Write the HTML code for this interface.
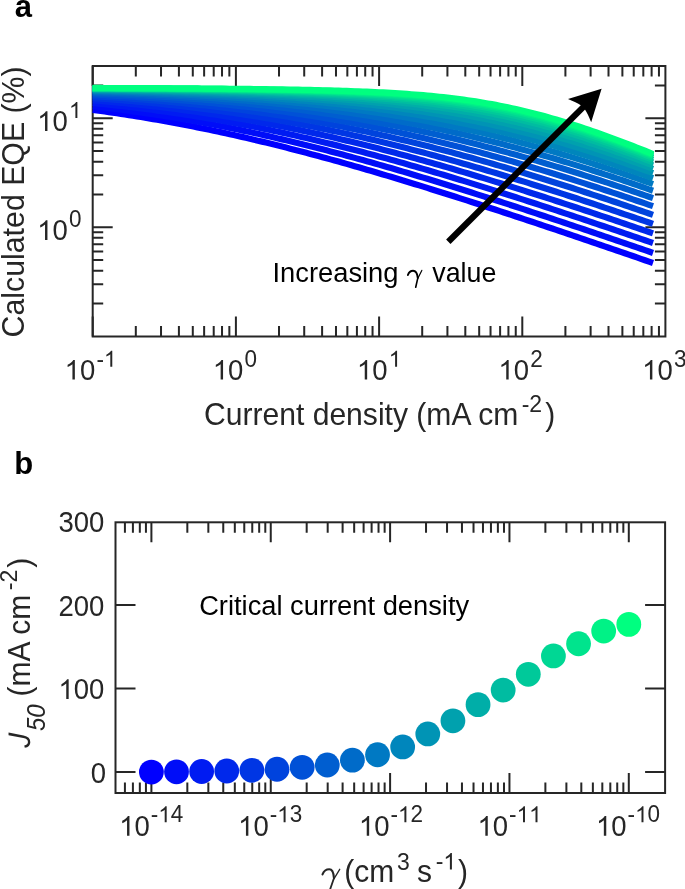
<!DOCTYPE html>
<html><head><meta charset="utf-8"><style>html,body{margin:0;padding:0;background:#fff;width:685px;height:889px;overflow:hidden}</style></head>
<body>
<svg width="685" height="889" viewBox="0 0 685 889" style="position:absolute;left:0;top:0;will-change:transform;font-family:'Liberation Sans',sans-serif">
<rect width="685" height="889" fill="#fff"/>
<path d="M92.7 336.5v-20M92.7 66.0v20M135.81 336.5v-10.5M135.81 66.0v10.5M161.02 336.5v-10.5M161.02 66.0v10.5M178.91 336.5v-10.5M178.91 66.0v10.5M192.79 336.5v-10.5M192.79 66.0v10.5M204.13 336.5v-10.5M204.13 66.0v10.5M213.72 336.5v-10.5M213.72 66.0v10.5M222.02 336.5v-10.5M222.02 66.0v10.5M229.35 336.5v-10.5M229.35 66.0v10.5M235.9 336.5v-20M235.9 66.0v20M279.01 336.5v-10.5M279.01 66.0v10.5M304.22 336.5v-10.5M304.22 66.0v10.5M322.11 336.5v-10.5M322.11 66.0v10.5M335.99 336.5v-10.5M335.99 66.0v10.5M347.33 336.5v-10.5M347.33 66.0v10.5M356.92 336.5v-10.5M356.92 66.0v10.5M365.22 336.5v-10.5M365.22 66.0v10.5M372.55 336.5v-10.5M372.55 66.0v10.5M379.1 336.5v-20M379.1 66.0v20M422.21 336.5v-10.5M422.21 66.0v10.5M447.42 336.5v-10.5M447.42 66.0v10.5M465.31 336.5v-10.5M465.31 66.0v10.5M479.19 336.5v-10.5M479.19 66.0v10.5M490.53 336.5v-10.5M490.53 66.0v10.5M500.12 336.5v-10.5M500.12 66.0v10.5M508.42 336.5v-10.5M508.42 66.0v10.5M515.75 336.5v-10.5M515.75 66.0v10.5M522.3 336.5v-20M522.3 66.0v20M565.41 336.5v-10.5M565.41 66.0v10.5M590.62 336.5v-10.5M590.62 66.0v10.5M608.51 336.5v-10.5M608.51 66.0v10.5M622.39 336.5v-10.5M622.39 66.0v10.5M633.73 336.5v-10.5M633.73 66.0v10.5M643.32 336.5v-10.5M643.32 66.0v10.5M651.62 336.5v-10.5M651.62 66.0v10.5M658.95 336.5v-10.5M658.95 66.0v10.5M92.7 303.49h10.5M665.4 303.49h-10.5M92.7 284.29h10.5M665.4 284.29h-10.5M92.7 270.68h10.5M665.4 270.68h-10.5M92.7 260.11h10.5M665.4 260.11h-10.5M92.7 251.48h10.5M665.4 251.48h-10.5M92.7 244.18h10.5M665.4 244.18h-10.5M92.7 237.86h10.5M665.4 237.86h-10.5M92.7 232.29h10.5M665.4 232.29h-10.5M92.7 227.3h20M665.4 227.3h-20M92.7 194.49h10.5M665.4 194.49h-10.5M92.7 175.29h10.5M665.4 175.29h-10.5M92.7 161.68h10.5M665.4 161.68h-10.5M92.7 151.11h10.5M665.4 151.11h-10.5M92.7 142.48h10.5M665.4 142.48h-10.5M92.7 135.18h10.5M665.4 135.18h-10.5M92.7 128.86h10.5M665.4 128.86h-10.5M92.7 123.29h10.5M665.4 123.29h-10.5M92.7 118.3h20M665.4 118.3h-20M92.7 85.49h10.5M665.4 85.49h-10.5" stroke="#262626" stroke-width="2" fill="none"/>
<rect x="92.7" y="66.0" width="572.7" height="270.5" fill="none" stroke="#262626" stroke-width="2"/>
<g fill="none" stroke-width="6.2" stroke-linejoin="round">
<path d="M92.7 109.88 96.73 110.42 100.76 110.97 104.79 111.53 108.82 112.1 112.85 112.68 116.89 113.28 120.92 113.88 124.95 114.49 128.98 115.12 133.01 115.75 137.04 116.4 141.07 117.05 145.1 117.72 149.13 118.39 153.16 119.08 157.2 119.78 161.23 120.49 165.26 121.21 169.29 121.94 173.32 122.68 177.35 123.43 181.38 124.2 185.41 124.97 189.44 125.75 193.47 126.55 197.51 127.35 201.54 128.17 205.57 128.99 209.6 129.83 213.63 130.68 217.66 131.53 221.69 132.4 225.72 133.28 229.75 134.17 233.78 135.06 237.82 135.97 241.85 136.89 245.88 137.81 249.91 138.75 253.94 139.7 257.97 140.65 262 141.62 266.03 142.59 270.06 143.58 274.09 144.57 278.13 145.57 282.16 146.59 286.19 147.6 290.22 148.63 294.25 149.67 298.28 150.72 302.31 151.77 306.34 152.83 310.37 153.9 314.4 154.98 318.43 156.07 322.47 157.16 326.5 158.26 330.53 159.37 334.56 160.49 338.59 161.61 342.62 162.74 346.65 163.88 350.68 165.02 354.71 166.17 358.74 167.33 362.78 168.49 366.81 169.67 370.84 170.84 374.87 172.03 378.9 173.21 382.93 174.41 386.96 175.61 390.99 176.82 395.02 178.03 399.05 179.25 403.09 180.47 407.12 181.7 411.15 182.93 415.18 184.17 419.21 185.41 423.24 186.66 427.27 187.91 431.3 189.17 435.33 190.43 439.36 191.69 443.4 192.96 447.43 194.24 451.46 195.52 455.49 196.8 459.52 198.09 463.55 199.38 467.58 200.67 471.61 201.97 475.64 203.27 479.67 204.57 483.71 205.88 487.74 207.19 491.77 208.5 495.8 209.82 499.83 211.14 503.86 212.47 507.89 213.79 511.92 215.12 515.95 216.45 519.98 217.79 524.01 219.13 528.05 220.47 532.08 221.81 536.11 223.15 540.14 224.5 544.17 225.85 548.2 227.2 552.23 228.56 556.26 229.91 560.29 231.27 564.32 232.63 568.36 233.99 572.39 235.36 576.42 236.72 580.45 238.09 584.48 239.46 588.51 240.83 592.54 242.21 596.57 243.58 600.6 244.96 604.63 246.34 608.67 247.72 612.7 249.1 616.73 250.48 620.76 251.87 624.79 253.25 628.82 254.64 632.85 256.03 636.88 257.42 640.91 258.81 644.94 260.21 648.98 261.6 653.01 262.99" stroke="rgb(0,0,255)"/>
<path d="M92.7 106.2 96.73 106.66 100.76 107.14 104.79 107.63 108.82 108.13 112.85 108.64 116.89 109.15 120.92 109.68 124.95 110.22 128.98 110.77 133.01 111.32 137.04 111.89 141.07 112.47 145.1 113.06 149.13 113.66 153.16 114.27 157.2 114.89 161.23 115.52 165.26 116.16 169.29 116.81 173.32 117.47 177.35 118.15 181.38 118.83 185.41 119.52 189.44 120.23 193.47 120.95 197.51 121.67 201.54 122.41 205.57 123.16 209.6 123.92 213.63 124.69 217.66 125.47 221.69 126.26 225.72 127.06 229.75 127.87 233.78 128.69 237.82 129.52 241.85 130.37 245.88 131.22 249.91 132.09 253.94 132.96 257.97 133.84 262 134.74 266.03 135.64 270.06 136.56 274.09 137.48 278.13 138.41 282.16 139.36 286.19 140.31 290.22 141.27 294.25 142.25 298.28 143.23 302.31 144.22 306.34 145.22 310.37 146.22 314.4 147.24 318.43 148.27 322.47 149.3 326.5 150.35 330.53 151.4 334.56 152.46 338.59 153.52 342.62 154.6 346.65 155.68 350.68 156.78 354.71 157.87 358.74 158.98 362.78 160.1 366.81 161.22 370.84 162.35 374.87 163.48 378.9 164.63 382.93 165.77 386.96 166.93 390.99 168.09 395.02 169.26 399.05 170.44 403.09 171.62 407.12 172.81 411.15 174 415.18 175.2 419.21 176.41 423.24 177.62 427.27 178.84 431.3 180.06 435.33 181.29 439.36 182.52 443.4 183.76 447.43 185 451.46 186.25 455.49 187.5 459.52 188.76 463.55 190.02 467.58 191.28 471.61 192.55 475.64 193.83 479.67 195.11 483.71 196.39 487.74 197.68 491.77 198.97 495.8 200.26 499.83 201.56 503.86 202.86 507.89 204.17 511.92 205.47 515.95 206.79 519.98 208.1 524.01 209.42 528.05 210.74 532.08 212.07 536.11 213.4 540.14 214.73 544.17 216.06 548.2 217.4 552.23 218.74 556.26 220.08 560.29 221.42 564.32 222.77 568.36 224.12 572.39 225.47 576.42 226.83 580.45 228.18 584.48 229.54 588.51 230.9 592.54 232.27 596.57 233.63 600.6 235 604.63 236.37 608.67 237.74 612.7 239.11 616.73 240.49 620.76 241.87 624.79 243.24 628.82 244.63 632.85 246.01 636.88 247.39 640.91 248.78 644.94 250.17 648.98 251.55 653.01 252.95" stroke="rgb(0,13,248)"/>
<path d="M92.7 103.02 96.73 103.43 100.76 103.84 104.79 104.26 108.82 104.69 112.85 105.12 116.89 105.57 120.92 106.03 124.95 106.49 128.98 106.97 133.01 107.45 137.04 107.95 141.07 108.45 145.1 108.96 149.13 109.49 153.16 110.02 157.2 110.56 161.23 111.12 165.26 111.68 169.29 112.26 173.32 112.84 177.35 113.44 181.38 114.04 185.41 114.66 189.44 115.29 193.47 115.92 197.51 116.57 201.54 117.23 205.57 117.9 209.6 118.58 213.63 119.27 217.66 119.97 221.69 120.69 225.72 121.41 229.75 122.14 233.78 122.89 237.82 123.64 241.85 124.41 245.88 125.19 249.91 125.97 253.94 126.77 257.97 127.58 262 128.4 266.03 129.23 270.06 130.07 274.09 130.92 278.13 131.78 282.16 132.65 286.19 133.53 290.22 134.42 294.25 135.32 298.28 136.23 302.31 137.16 306.34 138.09 310.37 139.03 314.4 139.98 318.43 140.94 322.47 141.91 326.5 142.89 330.53 143.87 334.56 144.87 338.59 145.88 342.62 146.89 346.65 147.92 350.68 148.95 354.71 149.99 358.74 151.04 362.78 152.1 366.81 153.16 370.84 154.24 374.87 155.32 378.9 156.41 382.93 157.51 386.96 158.61 390.99 159.73 395.02 160.85 399.05 161.98 403.09 163.11 407.12 164.25 411.15 165.4 415.18 166.56 419.21 167.72 423.24 168.89 427.27 170.06 431.3 171.25 435.33 172.43 439.36 173.63 443.4 174.83 447.43 176.03 451.46 177.25 455.49 178.46 459.52 179.68 463.55 180.91 467.58 182.15 471.61 183.38 475.64 184.63 479.67 185.88 483.71 187.13 487.74 188.39 491.77 189.65 495.8 190.92 499.83 192.19 503.86 193.47 507.89 194.75 511.92 196.03 515.95 197.32 519.98 198.61 524.01 199.91 528.05 201.21 532.08 202.52 536.11 203.82 540.14 205.14 544.17 206.45 548.2 207.77 552.23 209.09 556.26 210.42 560.29 211.74 564.32 213.08 568.36 214.41 572.39 215.75 576.42 217.09 580.45 218.43 584.48 219.78 588.51 221.13 592.54 222.48 596.57 223.83 600.6 225.19 604.63 226.55 608.67 227.91 612.7 229.28 616.73 230.64 620.76 232.01 624.79 233.38 628.82 234.76 632.85 236.13 636.88 237.51 640.91 238.89 644.94 240.27 648.98 241.66 653.01 243.04" stroke="rgb(0,27,242)"/>
<path d="M92.7 100.32 96.73 100.66 100.76 101.01 104.79 101.37 108.82 101.73 112.85 102.11 116.89 102.49 120.92 102.88 124.95 103.28 128.98 103.69 133.01 104.1 137.04 104.53 141.07 104.96 145.1 105.41 149.13 105.86 153.16 106.32 157.2 106.79 161.23 107.27 165.26 107.76 169.29 108.27 173.32 108.78 177.35 109.3 181.38 109.83 185.41 110.37 189.44 110.92 193.47 111.48 197.51 112.05 201.54 112.63 205.57 113.22 209.6 113.83 213.63 114.44 217.66 115.06 221.69 115.7 225.72 116.34 229.75 117 233.78 117.66 237.82 118.34 241.85 119.03 245.88 119.72 249.91 120.43 253.94 121.15 257.97 121.88 262 122.62 266.03 123.38 270.06 124.14 274.09 124.91 278.13 125.7 282.16 126.49 286.19 127.3 290.22 128.11 294.25 128.94 298.28 129.78 302.31 130.63 306.34 131.48 310.37 132.35 314.4 133.23 318.43 134.12 322.47 135.02 326.5 135.93 330.53 136.85 334.56 137.77 338.59 138.71 342.62 139.66 346.65 140.62 350.68 141.59 354.71 142.56 358.74 143.55 362.78 144.55 366.81 145.55 370.84 146.57 374.87 147.59 378.9 148.62 382.93 149.66 386.96 150.71 390.99 151.77 395.02 152.83 399.05 153.91 403.09 154.99 407.12 156.08 411.15 157.18 415.18 158.28 419.21 159.39 423.24 160.52 427.27 161.64 431.3 162.78 435.33 163.92 439.36 165.07 443.4 166.23 447.43 167.39 451.46 168.56 455.49 169.74 459.52 170.92 463.55 172.11 467.58 173.31 471.61 174.51 475.64 175.72 479.67 176.93 483.71 178.15 487.74 179.38 491.77 180.61 495.8 181.84 499.83 183.08 503.86 184.33 507.89 185.58 511.92 186.84 515.95 188.1 519.98 189.37 524.01 190.64 528.05 191.92 532.08 193.2 536.11 194.48 540.14 195.77 544.17 197.07 548.2 198.36 552.23 199.67 556.26 200.97 560.29 202.28 564.32 203.6 568.36 204.91 572.39 206.24 576.42 207.56 580.45 208.89 584.48 210.22 588.51 211.56 592.54 212.9 596.57 214.24 600.6 215.58 604.63 216.93 608.67 218.28 612.7 219.64 616.73 221 620.76 222.36 624.79 223.72 628.82 225.09 632.85 226.46 636.88 227.83 640.91 229.2 644.94 230.58 648.98 231.96 653.01 233.34" stroke="rgb(0,40,235)"/>
<path d="M92.7 98.04 96.73 98.32 100.76 98.62 104.79 98.92 108.82 99.23 112.85 99.54 116.89 99.87 120.92 100.2 124.95 100.54 128.98 100.88 133.01 101.24 137.04 101.6 141.07 101.97 145.1 102.35 149.13 102.74 153.16 103.13 157.2 103.54 161.23 103.95 165.26 104.37 169.29 104.8 173.32 105.25 177.35 105.7 181.38 106.15 185.41 106.62 189.44 107.1 193.47 107.59 197.51 108.09 201.54 108.59 205.57 109.11 209.6 109.64 213.63 110.17 217.66 110.72 221.69 111.28 225.72 111.85 229.75 112.43 233.78 113.01 237.82 113.61 241.85 114.22 245.88 114.84 249.91 115.47 253.94 116.12 257.97 116.77 262 117.43 266.03 118.11 270.06 118.79 274.09 119.49 278.13 120.19 282.16 120.91 286.19 121.64 290.22 122.38 294.25 123.12 298.28 123.88 302.31 124.66 306.34 125.44 310.37 126.23 314.4 127.03 318.43 127.85 322.47 128.67 326.5 129.51 330.53 130.35 334.56 131.21 338.59 132.08 342.62 132.95 346.65 133.84 350.68 134.74 354.71 135.65 358.74 136.56 362.78 137.49 366.81 138.43 370.84 139.38 374.87 140.34 378.9 141.3 382.93 142.28 386.96 143.27 390.99 144.26 395.02 145.27 399.05 146.28 403.09 147.3 407.12 148.34 411.15 149.38 415.18 150.43 419.21 151.49 423.24 152.55 427.27 153.63 431.3 154.71 435.33 155.8 439.36 156.9 443.4 158.01 447.43 159.13 451.46 160.25 455.49 161.38 459.52 162.52 463.55 163.67 467.58 164.82 471.61 165.98 475.64 167.15 479.67 168.32 483.71 169.5 487.74 170.69 491.77 171.89 495.8 173.09 499.83 174.29 503.86 175.51 507.89 176.73 511.92 177.95 515.95 179.18 519.98 180.42 524.01 181.66 528.05 182.91 532.08 184.17 536.11 185.43 540.14 186.69 544.17 187.96 548.2 189.24 552.23 190.52 556.26 191.8 560.29 193.09 564.32 194.39 568.36 195.68 572.39 196.99 576.42 198.3 580.45 199.61 584.48 200.93 588.51 202.25 592.54 203.57 596.57 204.9 600.6 206.24 604.63 207.57 608.67 208.91 612.7 210.26 616.73 211.61 620.76 212.96 624.79 214.32 628.82 215.68 632.85 217.04 636.88 218.41 640.91 219.78 644.94 221.15 648.98 222.53 653.01 223.91" stroke="rgb(0,54,228)"/>
<path d="M92.7 96.12 96.73 96.36 100.76 96.61 104.79 96.86 108.82 97.12 112.85 97.39 116.89 97.66 120.92 97.93 124.95 98.22 128.98 98.51 133.01 98.81 137.04 99.12 141.07 99.43 145.1 99.75 149.13 100.08 153.16 100.41 157.2 100.76 161.23 101.11 165.26 101.47 169.29 101.84 173.32 102.21 177.35 102.6 181.38 102.99 185.41 103.39 189.44 103.8 193.47 104.22 197.51 104.65 201.54 105.09 205.57 105.54 209.6 105.99 213.63 106.46 217.66 106.93 221.69 107.42 225.72 107.91 229.75 108.42 233.78 108.93 237.82 109.46 241.85 109.99 245.88 110.54 249.91 111.09 253.94 111.66 257.97 112.23 262 112.82 266.03 113.41 270.06 114.02 274.09 114.64 278.13 115.27 282.16 115.91 286.19 116.56 290.22 117.22 294.25 117.89 298.28 118.57 302.31 119.26 306.34 119.97 310.37 120.68 314.4 121.41 318.43 122.15 322.47 122.9 326.5 123.65 330.53 124.42 334.56 125.21 338.59 126 342.62 126.8 346.65 127.61 350.68 128.44 354.71 129.27 358.74 130.12 362.78 130.97 366.81 131.84 370.84 132.72 374.87 133.61 378.9 134.5 382.93 135.41 386.96 136.33 390.99 137.26 395.02 138.2 399.05 139.15 403.09 140.11 407.12 141.08 411.15 142.06 415.18 143.05 419.21 144.05 423.24 145.05 427.27 146.07 431.3 147.1 435.33 148.13 439.36 149.18 443.4 150.23 447.43 151.3 451.46 152.37 455.49 153.45 459.52 154.54 463.55 155.64 467.58 156.74 471.61 157.86 475.64 158.98 479.67 160.11 483.71 161.25 487.74 162.39 491.77 163.55 495.8 164.71 499.83 165.88 503.86 167.06 507.89 168.24 511.92 169.43 515.95 170.63 519.98 171.83 524.01 173.04 528.05 174.26 532.08 175.49 536.11 176.72 540.14 177.96 544.17 179.2 548.2 180.45 552.23 181.71 556.26 182.97 560.29 184.24 564.32 185.51 568.36 186.79 572.39 188.07 576.42 189.36 580.45 190.66 584.48 191.96 588.51 193.27 592.54 194.58 596.57 195.9 600.6 197.22 604.63 198.55 608.67 199.88 612.7 201.21 616.73 202.55 620.76 203.9 624.79 205.25 628.82 206.6 632.85 207.96 636.88 209.33 640.91 210.69 644.94 212.07 648.98 213.44 653.01 214.82" stroke="rgb(0,67,221)"/>
<path d="M92.7 94.53 96.73 94.73 100.76 94.94 104.79 95.15 108.82 95.36 112.85 95.58 116.89 95.81 120.92 96.04 124.95 96.28 128.98 96.52 133.01 96.77 137.04 97.03 141.07 97.29 145.1 97.56 149.13 97.83 153.16 98.12 157.2 98.41 161.23 98.7 165.26 99.01 169.29 99.32 173.32 99.64 177.35 99.96 181.38 100.3 185.41 100.64 189.44 100.99 193.47 101.34 197.51 101.71 201.54 102.08 205.57 102.47 209.6 102.86 213.63 103.26 217.66 103.66 221.69 104.08 225.72 104.51 229.75 104.94 233.78 105.39 237.82 105.84 241.85 106.3 245.88 106.78 249.91 107.26 253.94 107.75 257.97 108.25 262 108.77 266.03 109.29 270.06 109.82 274.09 110.36 278.13 110.92 282.16 111.48 286.19 112.05 290.22 112.64 294.25 113.23 298.28 113.84 302.31 114.46 306.34 115.08 310.37 115.72 314.4 116.37 318.43 117.03 322.47 117.7 326.5 118.38 330.53 119.08 334.56 119.78 338.59 120.5 342.62 121.22 346.65 121.96 350.68 122.71 354.71 123.47 358.74 124.24 362.78 125.02 366.81 125.81 370.84 126.62 374.87 127.43 378.9 128.26 382.93 129.1 386.96 129.95 390.99 130.8 395.02 131.67 399.05 132.56 403.09 133.45 407.12 134.35 411.15 135.26 415.18 136.19 419.21 137.12 423.24 138.07 427.27 139.02 431.3 139.99 435.33 140.96 439.36 141.95 443.4 142.95 447.43 143.95 451.46 144.97 455.49 145.99 459.52 147.03 463.55 148.08 467.58 149.13 471.61 150.19 475.64 151.27 479.67 152.35 483.71 153.44 487.74 154.55 491.77 155.66 495.8 156.77 499.83 157.9 503.86 159.04 507.89 160.18 511.92 161.34 515.95 162.5 519.98 163.67 524.01 164.85 528.05 166.03 532.08 167.22 536.11 168.43 540.14 169.64 544.17 170.85 548.2 172.08 552.23 173.31 556.26 174.55 560.29 175.79 564.32 177.04 568.36 178.3 572.39 179.57 576.42 180.84 580.45 182.12 584.48 183.41 588.51 184.7 592.54 186 596.57 187.31 600.6 188.62 604.63 189.94 608.67 191.26 612.7 192.59 616.73 193.92 620.76 195.27 624.79 196.61 628.82 197.97 632.85 199.32 636.88 200.69 640.91 202.06 644.94 203.43 648.98 204.81 653.01 206.19" stroke="rgb(0,81,215)"/>
<path d="M92.7 93.22 96.73 93.38 100.76 93.55 104.79 93.73 108.82 93.9 112.85 94.09 116.89 94.27 120.92 94.46 124.95 94.66 128.98 94.86 133.01 95.07 137.04 95.28 141.07 95.5 145.1 95.73 149.13 95.96 153.16 96.19 157.2 96.43 161.23 96.68 165.26 96.94 169.29 97.2 173.32 97.47 177.35 97.74 181.38 98.02 185.41 98.31 189.44 98.6 193.47 98.9 197.51 99.21 201.54 99.53 205.57 99.85 209.6 100.18 213.63 100.52 217.66 100.87 221.69 101.23 225.72 101.59 229.75 101.96 233.78 102.34 237.82 102.73 241.85 103.13 245.88 103.53 249.91 103.95 253.94 104.37 257.97 104.81 262 105.25 266.03 105.7 270.06 106.16 274.09 106.64 278.13 107.12 282.16 107.61 286.19 108.11 290.22 108.62 294.25 109.14 298.28 109.67 302.31 110.22 306.34 110.77 310.37 111.33 314.4 111.91 318.43 112.49 322.47 113.09 326.5 113.69 330.53 114.31 334.56 114.94 338.59 115.58 342.62 116.23 346.65 116.89 350.68 117.56 354.71 118.25 358.74 118.94 362.78 119.65 366.81 120.37 370.84 121.1 374.87 121.84 378.9 122.59 382.93 123.36 386.96 124.13 390.99 124.92 395.02 125.72 399.05 126.53 403.09 127.35 407.12 128.18 411.15 129.03 415.18 129.89 419.21 130.75 423.24 131.63 427.27 132.52 431.3 133.42 435.33 134.34 439.36 135.26 443.4 136.2 447.43 137.14 451.46 138.1 455.49 139.07 459.52 140.05 463.55 141.04 467.58 142.04 471.61 143.05 475.64 144.07 479.67 145.11 483.71 146.15 487.74 147.2 491.77 148.27 495.8 149.34 499.83 150.43 503.86 151.52 507.89 152.63 511.92 153.74 515.95 154.86 519.98 156 524.01 157.14 528.05 158.29 532.08 159.45 536.11 160.63 540.14 161.81 544.17 162.99 548.2 164.19 552.23 165.4 556.26 166.62 560.29 167.84 564.32 169.07 568.36 170.31 572.39 171.56 576.42 172.82 580.45 174.08 584.48 175.36 588.51 176.64 592.54 177.93 596.57 179.22 600.6 180.53 604.63 181.84 608.67 183.16 612.7 184.49 616.73 185.82 620.76 187.16 624.79 188.51 628.82 189.86 632.85 191.22 636.88 192.59 640.91 193.96 644.94 195.34 648.98 196.73 653.01 198.13" stroke="rgb(0,94,208)"/>
<path d="M92.7 92.14 96.73 92.28 100.76 92.41 104.79 92.56 108.82 92.7 112.85 92.85 116.89 93.01 120.92 93.16 124.95 93.33 128.98 93.49 133.01 93.66 137.04 93.84 141.07 94.02 145.1 94.21 149.13 94.4 153.16 94.59 157.2 94.79 161.23 95 165.26 95.21 169.29 95.43 173.32 95.65 177.35 95.88 181.38 96.11 185.41 96.35 189.44 96.6 193.47 96.85 197.51 97.11 201.54 97.38 205.57 97.65 209.6 97.93 213.63 98.21 217.66 98.51 221.69 98.81 225.72 99.11 229.75 99.43 233.78 99.75 237.82 100.08 241.85 100.42 245.88 100.77 249.91 101.12 253.94 101.48 257.97 101.85 262 102.23 266.03 102.62 270.06 103.02 274.09 103.42 278.13 103.84 282.16 104.26 286.19 104.7 290.22 105.14 294.25 105.59 298.28 106.05 302.31 106.53 306.34 107.01 310.37 107.5 314.4 108 318.43 108.51 322.47 109.04 326.5 109.57 330.53 110.12 334.56 110.67 338.59 111.24 342.62 111.81 346.65 112.4 350.68 113 354.71 113.61 358.74 114.23 362.78 114.87 366.81 115.51 370.84 116.17 374.87 116.84 378.9 117.52 382.93 118.21 386.96 118.91 390.99 119.63 395.02 120.35 399.05 121.09 403.09 121.84 407.12 122.61 411.15 123.38 415.18 124.17 419.21 124.97 423.24 125.78 427.27 126.61 431.3 127.44 435.33 128.29 439.36 129.15 443.4 130.03 447.43 130.91 451.46 131.81 455.49 132.72 459.52 133.64 463.55 134.57 467.58 135.52 471.61 136.48 475.64 137.45 479.67 138.43 483.71 139.42 487.74 140.43 491.77 141.44 495.8 142.47 499.83 143.51 503.86 144.57 507.89 145.63 511.92 146.7 515.95 147.79 519.98 148.89 524.01 150 528.05 151.12 532.08 152.25 536.11 153.39 540.14 154.54 544.17 155.7 548.2 156.88 552.23 158.06 556.26 159.25 560.29 160.46 564.32 161.67 568.36 162.9 572.39 164.13 576.42 165.38 580.45 166.63 584.48 167.89 588.51 169.17 592.54 170.45 596.57 171.74 600.6 173.04 604.63 174.35 608.67 175.67 612.7 177 616.73 178.33 620.76 179.68 624.79 181.03 628.82 182.39 632.85 183.76 636.88 185.14 640.91 186.52 644.94 187.91 648.98 189.32 653.01 190.72" stroke="rgb(0,107,201)"/>
<path d="M92.7 91.26 96.73 91.37 100.76 91.48 104.79 91.6 108.82 91.72 112.85 91.84 116.89 91.97 120.92 92.1 124.95 92.23 128.98 92.37 133.01 92.51 137.04 92.65 141.07 92.8 145.1 92.95 149.13 93.11 153.16 93.27 157.2 93.44 161.23 93.61 165.26 93.78 169.29 93.96 173.32 94.15 177.35 94.33 181.38 94.53 185.41 94.73 189.44 94.93 193.47 95.14 197.51 95.36 201.54 95.58 205.57 95.81 209.6 96.04 213.63 96.28 217.66 96.52 221.69 96.78 225.72 97.03 229.75 97.3 233.78 97.57 237.82 97.85 241.85 98.13 245.88 98.43 249.91 98.73 253.94 99.03 257.97 99.35 262 99.67 266.03 100 270.06 100.34 274.09 100.68 278.13 101.04 282.16 101.4 286.19 101.77 290.22 102.15 294.25 102.54 298.28 102.94 302.31 103.35 306.34 103.76 310.37 104.19 314.4 104.63 318.43 105.07 322.47 105.53 326.5 105.99 330.53 106.47 334.56 106.95 338.59 107.45 342.62 107.96 346.65 108.48 350.68 109 354.71 109.54 358.74 110.1 362.78 110.66 366.81 111.23 370.84 111.82 374.87 112.41 378.9 113.02 382.93 113.64 386.96 114.28 390.99 114.92 395.02 115.58 399.05 116.25 403.09 116.93 407.12 117.63 411.15 118.33 415.18 119.05 419.21 119.79 423.24 120.53 427.27 121.29 431.3 122.06 435.33 122.85 439.36 123.64 443.4 124.46 447.43 125.28 451.46 126.12 455.49 126.97 459.52 127.83 463.55 128.71 467.58 129.6 471.61 130.51 475.64 131.42 479.67 132.35 483.71 133.3 487.74 134.26 491.77 135.23 495.8 136.21 499.83 137.21 503.86 138.22 507.89 139.24 511.92 140.28 515.95 141.33 519.98 142.39 524.01 143.47 528.05 144.56 532.08 145.66 536.11 146.78 540.14 147.9 544.17 149.04 548.2 150.19 552.23 151.36 556.26 152.53 560.29 153.72 564.32 154.92 568.36 156.13 572.39 157.36 576.42 158.59 580.45 159.84 584.48 161.1 588.51 162.37 592.54 163.65 596.57 164.94 600.6 166.24 604.63 167.55 608.67 168.87 612.7 170.21 616.73 171.55 620.76 172.9 624.79 174.27 628.82 175.64 632.85 177.02 636.88 178.41 640.91 179.81 644.94 181.23 648.98 182.64 653.01 184.07" stroke="rgb(0,121,195)"/>
<path d="M92.7 90.54 96.73 90.63 100.76 90.72 104.79 90.82 108.82 90.91 112.85 91.01 116.89 91.12 120.92 91.22 124.95 91.33 128.98 91.44 133.01 91.56 137.04 91.68 141.07 91.8 145.1 91.92 149.13 92.05 153.16 92.18 157.2 92.32 161.23 92.46 165.26 92.6 169.29 92.75 173.32 92.9 177.35 93.06 181.38 93.22 185.41 93.38 189.44 93.55 193.47 93.73 197.51 93.91 201.54 94.09 205.57 94.28 209.6 94.47 213.63 94.67 217.66 94.87 221.69 95.08 225.72 95.3 229.75 95.52 233.78 95.75 237.82 95.98 241.85 96.22 245.88 96.46 249.91 96.72 253.94 96.97 257.97 97.24 262 97.51 266.03 97.79 270.06 98.07 274.09 98.37 278.13 98.67 282.16 98.98 286.19 99.29 290.22 99.62 294.25 99.95 298.28 100.29 302.31 100.64 306.34 101 310.37 101.36 314.4 101.74 318.43 102.12 322.47 102.51 326.5 102.92 330.53 103.33 334.56 103.75 338.59 104.18 342.62 104.63 346.65 105.08 350.68 105.54 354.71 106.02 358.74 106.5 362.78 107 366.81 107.5 370.84 108.02 374.87 108.55 378.9 109.1 382.93 109.65 386.96 110.22 390.99 110.79 395.02 111.38 399.05 111.99 403.09 112.6 407.12 113.23 411.15 113.87 415.18 114.53 419.21 115.2 423.24 115.88 427.27 116.57 431.3 117.28 435.33 118.01 439.36 118.74 443.4 119.5 447.43 120.26 451.46 121.04 455.49 121.84 459.52 122.64 463.55 123.47 467.58 124.31 471.61 125.16 475.64 126.03 479.67 126.91 483.71 127.81 487.74 128.72 491.77 129.65 495.8 130.59 499.83 131.55 503.86 132.52 507.89 133.51 511.92 134.51 515.95 135.52 519.98 136.56 524.01 137.6 528.05 138.66 532.08 139.74 536.11 140.83 540.14 141.94 544.17 143.06 548.2 144.19 552.23 145.34 556.26 146.5 560.29 147.68 564.32 148.87 568.36 150.07 572.39 151.29 576.42 152.52 580.45 153.76 584.48 155.02 588.51 156.29 592.54 157.57 596.57 158.87 600.6 160.17 604.63 161.49 608.67 162.83 612.7 164.17 616.73 165.52 620.76 166.89 624.79 168.27 628.82 169.66 632.85 171.06 636.88 172.47 640.91 173.89 644.94 175.33 648.98 176.77 653.01 178.22" stroke="rgb(0,134,188)"/>
<path d="M92.7 89.95 96.73 90.03 100.76 90.1 104.79 90.18 108.82 90.26 112.85 90.34 116.89 90.42 120.92 90.51 124.95 90.6 128.98 90.69 133.01 90.78 137.04 90.88 141.07 90.98 145.1 91.08 149.13 91.19 153.16 91.3 157.2 91.41 161.23 91.52 165.26 91.64 169.29 91.76 173.32 91.88 177.35 92.01 181.38 92.14 185.41 92.28 189.44 92.42 193.47 92.56 197.51 92.71 201.54 92.86 205.57 93.02 209.6 93.18 213.63 93.34 217.66 93.51 221.69 93.68 225.72 93.86 229.75 94.05 233.78 94.23 237.82 94.43 241.85 94.63 245.88 94.83 249.91 95.04 253.94 95.26 257.97 95.48 262 95.71 266.03 95.94 270.06 96.18 274.09 96.43 278.13 96.68 282.16 96.94 286.19 97.21 290.22 97.48 294.25 97.76 298.28 98.05 302.31 98.35 306.34 98.66 310.37 98.97 314.4 99.29 318.43 99.62 322.47 99.96 326.5 100.3 330.53 100.66 334.56 101.02 338.59 101.4 342.62 101.78 346.65 102.17 350.68 102.58 354.71 102.99 358.74 103.42 362.78 103.85 366.81 104.3 370.84 104.75 374.87 105.22 378.9 105.7 382.93 106.19 386.96 106.7 390.99 107.21 395.02 107.74 399.05 108.28 403.09 108.84 407.12 109.41 411.15 109.99 415.18 110.58 419.21 111.19 423.24 111.81 427.27 112.45 431.3 113.1 435.33 113.76 439.36 114.44 443.4 115.14 447.43 115.85 451.46 116.57 455.49 117.32 459.52 118.07 463.55 118.85 467.58 119.63 471.61 120.44 475.64 121.26 479.67 122.1 483.71 122.95 487.74 123.82 491.77 124.71 495.8 125.61 499.83 126.54 503.86 127.47 507.89 128.43 511.92 129.4 515.95 130.39 519.98 131.39 524.01 132.41 528.05 133.45 532.08 134.5 536.11 135.58 540.14 136.66 544.17 137.77 548.2 138.89 552.23 140.02 556.26 141.18 560.29 142.35 564.32 143.53 568.36 144.73 572.39 145.95 576.42 147.18 580.45 148.42 584.48 149.68 588.51 150.96 592.54 152.25 596.57 153.55 600.6 154.87 604.63 156.2 608.67 157.55 612.7 158.9 616.73 160.28 620.76 161.66 624.79 163.06 628.82 164.47 632.85 165.89 636.88 167.32 640.91 168.77 644.94 170.22 648.98 171.69 653.01 173.17" stroke="rgb(0,148,181)"/>
<path d="M92.7 89.48 96.73 89.54 100.76 89.6 104.79 89.66 108.82 89.73 112.85 89.79 116.89 89.86 120.92 89.93 124.95 90 128.98 90.08 133.01 90.15 137.04 90.23 141.07 90.31 145.1 90.4 149.13 90.48 153.16 90.57 157.2 90.66 161.23 90.76 165.26 90.85 169.29 90.95 173.32 91.05 177.35 91.16 181.38 91.26 185.41 91.38 189.44 91.49 193.47 91.61 197.51 91.73 201.54 91.85 205.57 91.98 209.6 92.11 213.63 92.25 217.66 92.39 221.69 92.53 225.72 92.68 229.75 92.83 233.78 92.99 237.82 93.15 241.85 93.31 245.88 93.48 249.91 93.66 253.94 93.84 257.97 94.02 262 94.21 266.03 94.41 270.06 94.61 274.09 94.81 278.13 95.03 282.16 95.25 286.19 95.47 290.22 95.7 294.25 95.94 298.28 96.18 302.31 96.44 306.34 96.69 310.37 96.96 314.4 97.23 318.43 97.51 322.47 97.8 326.5 98.1 330.53 98.41 334.56 98.72 338.59 99.04 342.62 99.37 346.65 99.71 350.68 100.06 354.71 100.42 358.74 100.79 362.78 101.17 366.81 101.57 370.84 101.97 374.87 102.38 378.9 102.8 382.93 103.24 386.96 103.69 390.99 104.15 395.02 104.62 399.05 105.1 403.09 105.6 407.12 106.11 411.15 106.64 415.18 107.17 419.21 107.73 423.24 108.29 427.27 108.88 431.3 109.47 435.33 110.09 439.36 110.71 443.4 111.36 447.43 112.02 451.46 112.69 455.49 113.39 459.52 114.1 463.55 114.82 467.58 115.57 471.61 116.33 475.64 117.11 479.67 117.91 483.71 118.72 487.74 119.56 491.77 120.41 495.8 121.28 499.83 122.17 503.86 123.07 507.89 124 511.92 124.94 515.95 125.91 519.98 126.89 524.01 127.89 528.05 128.91 532.08 129.95 536.11 131 540.14 132.08 544.17 133.17 548.2 134.28 552.23 135.41 556.26 136.56 560.29 137.72 564.32 138.91 568.36 140.11 572.39 141.33 576.42 142.56 580.45 143.81 584.48 145.08 588.51 146.36 592.54 147.66 596.57 148.98 600.6 150.31 604.63 151.65 608.67 153.02 612.7 154.39 616.73 155.78 620.76 157.19 624.79 158.6 628.82 160.03 632.85 161.48 636.88 162.94 640.91 164.41 644.94 165.89 648.98 167.38 653.01 168.89" stroke="rgb(0,161,174)"/>
<path d="M92.7 89.1 96.73 89.15 100.76 89.2 104.79 89.25 108.82 89.3 112.85 89.35 116.89 89.41 120.92 89.46 124.95 89.52 128.98 89.58 133.01 89.64 137.04 89.71 141.07 89.77 145.1 89.84 149.13 89.91 153.16 89.98 157.2 90.06 161.23 90.13 165.26 90.21 169.29 90.29 173.32 90.37 177.35 90.46 181.38 90.55 185.41 90.64 189.44 90.73 193.47 90.83 197.51 90.93 201.54 91.03 205.57 91.13 209.6 91.24 213.63 91.35 217.66 91.47 221.69 91.59 225.72 91.71 229.75 91.83 233.78 91.96 237.82 92.09 241.85 92.23 245.88 92.37 249.91 92.52 253.94 92.67 257.97 92.82 262 92.98 266.03 93.14 270.06 93.31 274.09 93.48 278.13 93.66 282.16 93.84 286.19 94.03 290.22 94.22 294.25 94.43 298.28 94.63 302.31 94.84 306.34 95.06 310.37 95.29 314.4 95.52 318.43 95.76 322.47 96.01 326.5 96.26 330.53 96.52 334.56 96.79 338.59 97.07 342.62 97.35 346.65 97.65 350.68 97.95 354.71 98.26 358.74 98.59 362.78 98.92 366.81 99.26 370.84 99.61 374.87 99.98 378.9 100.35 382.93 100.74 386.96 101.13 390.99 101.54 395.02 101.96 399.05 102.4 403.09 102.85 407.12 103.31 411.15 103.78 415.18 104.27 419.21 104.77 423.24 105.29 427.27 105.82 431.3 106.37 435.33 106.94 439.36 107.52 443.4 108.12 447.43 108.73 451.46 109.36 455.49 110.01 459.52 110.68 463.55 111.37 467.58 112.07 471.61 112.8 475.64 113.54 479.67 114.3 483.71 115.08 487.74 115.88 491.77 116.7 495.8 117.55 499.83 118.41 503.86 119.29 507.89 120.19 511.92 121.11 515.95 122.06 519.98 123.02 524.01 124.01 528.05 125.01 532.08 126.04 536.11 127.08 540.14 128.15 544.17 129.23 548.2 130.34 552.23 131.47 556.26 132.61 560.29 133.78 564.32 134.96 568.36 136.17 572.39 137.39 576.42 138.63 580.45 139.89 584.48 141.17 588.51 142.46 592.54 143.77 596.57 145.1 600.6 146.45 604.63 147.81 608.67 149.19 612.7 150.58 616.73 151.99 620.76 153.42 624.79 154.86 628.82 156.31 632.85 157.78 636.88 159.26 640.91 160.75 644.94 162.26 648.98 163.78 653.01 165.31" stroke="rgb(0,174,168)"/>
<path d="M92.7 88.79 96.73 88.83 100.76 88.87 104.79 88.91 108.82 88.95 112.85 88.99 116.89 89.04 120.92 89.08 124.95 89.13 128.98 89.18 133.01 89.23 137.04 89.28 141.07 89.34 145.1 89.39 149.13 89.45 153.16 89.51 157.2 89.57 161.23 89.63 165.26 89.69 169.29 89.76 173.32 89.82 177.35 89.89 181.38 89.97 185.41 90.04 189.44 90.12 193.47 90.19 197.51 90.28 201.54 90.36 205.57 90.45 209.6 90.53 213.63 90.63 217.66 90.72 221.69 90.82 225.72 90.92 229.75 91.02 233.78 91.13 237.82 91.23 241.85 91.35 245.88 91.46 249.91 91.58 253.94 91.71 257.97 91.83 262 91.97 266.03 92.1 270.06 92.24 274.09 92.38 278.13 92.53 282.16 92.69 286.19 92.84 290.22 93.01 294.25 93.18 298.28 93.35 302.31 93.53 306.34 93.71 310.37 93.9 314.4 94.1 318.43 94.3 322.47 94.51 326.5 94.73 330.53 94.96 334.56 95.19 338.59 95.43 342.62 95.67 346.65 95.93 350.68 96.19 354.71 96.46 358.74 96.74 362.78 97.03 366.81 97.33 370.84 97.64 374.87 97.96 378.9 98.29 382.93 98.63 386.96 98.99 390.99 99.35 395.02 99.73 399.05 100.12 403.09 100.52 407.12 100.94 411.15 101.37 415.18 101.82 419.21 102.28 423.24 102.75 427.27 103.24 431.3 103.75 435.33 104.27 439.36 104.81 443.4 105.37 447.43 105.94 451.46 106.54 455.49 107.15 459.52 107.78 463.55 108.43 467.58 109.1 471.61 109.79 475.64 110.5 479.67 111.23 483.71 111.99 487.74 112.76 491.77 113.56 495.8 114.37 499.83 115.21 503.86 116.07 507.89 116.96 511.92 117.86 515.95 118.79 519.98 119.74 524.01 120.71 528.05 121.71 532.08 122.72 536.11 123.76 540.14 124.82 544.17 125.91 548.2 127.01 552.23 128.14 556.26 129.28 560.29 130.45 564.32 131.64 568.36 132.85 572.39 134.08 576.42 135.33 580.45 136.6 584.48 137.89 588.51 139.19 592.54 140.52 596.57 141.86 600.6 143.22 604.63 144.6 608.67 146 612.7 147.41 616.73 148.84 620.76 150.28 624.79 151.74 628.82 153.21 632.85 154.7 636.88 156.2 640.91 157.72 644.94 159.25 648.98 160.79 653.01 162.35" stroke="rgb(0,188,161)"/>
<path d="M92.7 88.54 96.73 88.57 100.76 88.6 104.79 88.64 108.82 88.67 112.85 88.71 116.89 88.74 120.92 88.78 124.95 88.82 128.98 88.86 133.01 88.9 137.04 88.94 141.07 88.98 145.1 89.03 149.13 89.07 153.16 89.12 157.2 89.17 161.23 89.22 165.26 89.27 169.29 89.32 173.32 89.38 177.35 89.44 181.38 89.49 185.41 89.55 189.44 89.62 193.47 89.68 197.51 89.75 201.54 89.82 205.57 89.89 209.6 89.96 213.63 90.03 217.66 90.11 221.69 90.19 225.72 90.27 229.75 90.36 233.78 90.44 237.82 90.53 241.85 90.63 245.88 90.72 249.91 90.82 253.94 90.92 257.97 91.03 262 91.14 266.03 91.25 270.06 91.37 274.09 91.49 278.13 91.61 282.16 91.74 286.19 91.87 290.22 92.01 294.25 92.15 298.28 92.3 302.31 92.45 306.34 92.61 310.37 92.77 314.4 92.93 318.43 93.11 322.47 93.29 326.5 93.47 330.53 93.66 334.56 93.86 338.59 94.07 342.62 94.28 346.65 94.5 350.68 94.73 354.71 94.97 358.74 95.21 362.78 95.47 366.81 95.73 370.84 96 374.87 96.29 378.9 96.58 382.93 96.88 386.96 97.2 390.99 97.53 395.02 97.87 399.05 98.22 403.09 98.58 407.12 98.96 411.15 99.35 415.18 99.76 419.21 100.18 423.24 100.62 427.27 101.07 431.3 101.54 435.33 102.03 439.36 102.54 443.4 103.06 447.43 103.6 451.46 104.16 455.49 104.74 459.52 105.34 463.55 105.96 467.58 106.6 471.61 107.26 475.64 107.95 479.67 108.66 483.71 109.38 487.74 110.14 491.77 110.91 495.8 111.71 499.83 112.53 503.86 113.37 507.89 114.24 511.92 115.13 515.95 116.05 519.98 116.99 524.01 117.95 528.05 118.94 532.08 119.95 536.11 120.98 540.14 122.04 544.17 123.12 548.2 124.23 552.23 125.36 556.26 126.51 560.29 127.68 564.32 128.87 568.36 130.09 572.39 131.33 576.42 132.59 580.45 133.87 584.48 135.17 588.51 136.48 592.54 137.82 596.57 139.18 600.6 140.56 604.63 141.95 608.67 143.36 612.7 144.79 616.73 146.23 620.76 147.7 624.79 149.17 628.82 150.67 632.85 152.17 636.88 153.7 640.91 155.23 644.94 156.78 648.98 158.35 653.01 159.92" stroke="rgb(0,201,154)"/>
<path d="M92.7 88.34 96.73 88.37 100.76 88.39 104.79 88.42 108.82 88.45 112.85 88.47 116.89 88.5 120.92 88.53 124.95 88.56 128.98 88.6 133.01 88.63 137.04 88.66 141.07 88.7 145.1 88.73 149.13 88.77 153.16 88.81 157.2 88.85 161.23 88.89 165.26 88.93 169.29 88.97 173.32 89.02 177.35 89.07 181.38 89.11 185.41 89.16 189.44 89.21 193.47 89.27 197.51 89.32 201.54 89.38 205.57 89.43 209.6 89.49 213.63 89.55 217.66 89.62 221.69 89.68 225.72 89.75 229.75 89.82 233.78 89.89 237.82 89.97 241.85 90.04 245.88 90.12 249.91 90.2 253.94 90.29 257.97 90.38 262 90.47 266.03 90.56 270.06 90.66 274.09 90.76 278.13 90.86 282.16 90.97 286.19 91.08 290.22 91.19 294.25 91.31 298.28 91.44 302.31 91.57 306.34 91.7 310.37 91.84 314.4 91.98 318.43 92.13 322.47 92.28 326.5 92.44 330.53 92.6 334.56 92.77 338.59 92.95 342.62 93.14 346.65 93.33 350.68 93.53 354.71 93.74 358.74 93.95 362.78 94.17 366.81 94.41 370.84 94.65 374.87 94.9 378.9 95.16 382.93 95.43 386.96 95.72 390.99 96.01 395.02 96.32 399.05 96.64 403.09 96.97 407.12 97.32 411.15 97.68 415.18 98.05 419.21 98.44 423.24 98.85 427.27 99.27 431.3 99.71 435.33 100.17 439.36 100.64 443.4 101.13 447.43 101.65 451.46 102.18 455.49 102.73 459.52 103.31 463.55 103.9 467.58 104.52 471.61 105.16 475.64 105.82 479.67 106.5 483.71 107.21 487.74 107.95 491.77 108.7 495.8 109.48 499.83 110.29 503.86 111.12 507.89 111.98 511.92 112.86 515.95 113.77 519.98 114.7 524.01 115.66 528.05 116.64 532.08 117.65 536.11 118.68 540.14 119.74 544.17 120.82 548.2 121.93 552.23 123.06 556.26 124.21 560.29 125.39 564.32 126.59 568.36 127.81 572.39 129.06 576.42 130.33 580.45 131.61 584.48 132.92 588.51 134.26 592.54 135.61 596.57 136.98 600.6 138.37 604.63 139.77 608.67 141.2 612.7 142.64 616.73 144.1 620.76 145.58 624.79 147.07 628.82 148.58 632.85 150.11 636.88 151.65 640.91 153.2 644.94 154.77 648.98 156.35 653.01 157.95" stroke="rgb(0,215,148)"/>
<path d="M92.7 88.18 96.73 88.2 100.76 88.22 104.79 88.24 108.82 88.26 112.85 88.29 116.89 88.31 120.92 88.33 124.95 88.36 128.98 88.39 133.01 88.41 137.04 88.44 141.07 88.47 145.1 88.5 149.13 88.53 153.16 88.56 157.2 88.59 161.23 88.62 165.26 88.66 169.29 88.69 173.32 88.73 177.35 88.77 181.38 88.81 185.41 88.85 189.44 88.89 193.47 88.93 197.51 88.97 201.54 89.02 205.57 89.07 209.6 89.12 213.63 89.17 217.66 89.22 221.69 89.27 225.72 89.33 229.75 89.38 233.78 89.44 237.82 89.5 241.85 89.57 245.88 89.63 249.91 89.7 253.94 89.77 257.97 89.84 262 89.92 266.03 90 270.06 90.08 274.09 90.16 278.13 90.25 282.16 90.34 286.19 90.43 290.22 90.53 294.25 90.63 298.28 90.74 302.31 90.85 306.34 90.96 310.37 91.08 314.4 91.2 318.43 91.32 322.47 91.46 326.5 91.59 330.53 91.74 334.56 91.88 338.59 92.04 342.62 92.2 346.65 92.37 350.68 92.54 354.71 92.73 358.74 92.92 362.78 93.11 366.81 93.32 370.84 93.54 374.87 93.76 378.9 94 382.93 94.24 386.96 94.5 390.99 94.77 395.02 95.05 399.05 95.34 403.09 95.64 407.12 95.96 411.15 96.3 415.18 96.64 419.21 97.01 423.24 97.38 427.27 97.78 431.3 98.19 435.33 98.62 439.36 99.07 443.4 99.54 447.43 100.03 451.46 100.54 455.49 101.07 459.52 101.62 463.55 102.2 467.58 102.79 471.61 103.41 475.64 104.06 479.67 104.72 483.71 105.42 487.74 106.13 491.77 106.88 495.8 107.65 499.83 108.44 503.86 109.26 507.89 110.11 511.92 110.98 515.95 111.88 519.98 112.81 524.01 113.76 528.05 114.74 532.08 115.75 536.11 116.78 540.14 117.84 544.17 118.92 548.2 120.03 552.23 121.17 556.26 122.32 560.29 123.51 564.32 124.71 568.36 125.94 572.39 127.2 576.42 128.47 580.45 129.77 584.48 131.09 588.51 132.43 592.54 133.79 596.57 135.18 600.6 136.58 604.63 138 608.67 139.44 612.7 140.89 616.73 142.37 620.76 143.86 624.79 145.37 628.82 146.89 632.85 148.43 636.88 149.98 640.91 151.55 644.94 153.14 648.98 154.73 653.01 156.34" stroke="rgb(0,228,141)"/>
<path d="M92.7 88.05 96.73 88.07 100.76 88.08 104.79 88.1 108.82 88.12 112.85 88.14 116.89 88.16 120.92 88.17 124.95 88.2 128.98 88.22 133.01 88.24 137.04 88.26 141.07 88.28 145.1 88.31 149.13 88.33 153.16 88.36 157.2 88.38 161.23 88.41 165.26 88.44 169.29 88.47 173.32 88.5 177.35 88.53 181.38 88.56 185.41 88.59 189.44 88.62 193.47 88.66 197.51 88.7 201.54 88.73 205.57 88.77 209.6 88.81 213.63 88.85 217.66 88.89 221.69 88.94 225.72 88.98 229.75 89.03 233.78 89.08 237.82 89.13 241.85 89.18 245.88 89.24 249.91 89.3 253.94 89.35 257.97 89.42 262 89.48 266.03 89.54 270.06 89.61 274.09 89.68 278.13 89.76 282.16 89.83 286.19 89.91 290.22 89.99 294.25 90.08 298.28 90.17 302.31 90.26 306.34 90.36 310.37 90.46 314.4 90.56 318.43 90.67 322.47 90.79 326.5 90.91 330.53 91.03 334.56 91.16 338.59 91.3 342.62 91.44 346.65 91.59 350.68 91.74 354.71 91.9 358.74 92.07 362.78 92.25 366.81 92.43 370.84 92.63 374.87 92.83 378.9 93.04 382.93 93.27 386.96 93.5 390.99 93.75 395.02 94 399.05 94.27 403.09 94.55 407.12 94.85 411.15 95.16 415.18 95.48 419.21 95.83 423.24 96.18 427.27 96.56 431.3 96.95 435.33 97.36 439.36 97.78 443.4 98.23 447.43 98.7 451.46 99.19 455.49 99.7 459.52 100.23 463.55 100.79 467.58 101.37 471.61 101.98 475.64 102.6 479.67 103.26 483.71 103.94 487.74 104.64 491.77 105.38 495.8 106.14 499.83 106.92 503.86 107.73 507.89 108.57 511.92 109.44 515.95 110.34 519.98 111.26 524.01 112.21 528.05 113.19 532.08 114.19 536.11 115.23 540.14 116.29 544.17 117.37 548.2 118.48 552.23 119.62 556.26 120.78 560.29 121.97 564.32 123.18 568.36 124.42 572.39 125.68 576.42 126.97 580.45 128.27 584.48 129.6 588.51 130.95 592.54 132.32 596.57 133.71 600.6 135.13 604.63 136.56 608.67 138.01 612.7 139.47 616.73 140.96 620.76 142.46 624.79 143.98 628.82 145.52 632.85 147.07 636.88 148.64 640.91 150.22 644.94 151.82 648.98 153.42 653.01 155.05" stroke="rgb(0,242,134)"/>
<path d="M92.7 87.95 96.73 87.96 100.76 87.97 104.79 87.99 108.82 88 112.85 88.02 116.89 88.03 120.92 88.05 124.95 88.06 128.98 88.08 133.01 88.1 137.04 88.12 141.07 88.13 145.1 88.15 149.13 88.17 153.16 88.19 157.2 88.22 161.23 88.24 165.26 88.26 169.29 88.28 173.32 88.31 177.35 88.33 181.38 88.36 185.41 88.38 189.44 88.41 193.47 88.44 197.51 88.47 201.54 88.5 205.57 88.53 209.6 88.57 213.63 88.6 217.66 88.64 221.69 88.67 225.72 88.71 229.75 88.75 233.78 88.79 237.82 88.83 241.85 88.88 245.88 88.92 249.91 88.97 253.94 89.02 257.97 89.07 262 89.12 266.03 89.18 270.06 89.23 274.09 89.29 278.13 89.36 282.16 89.42 286.19 89.49 290.22 89.56 294.25 89.63 298.28 89.71 302.31 89.79 306.34 89.87 310.37 89.96 314.4 90.05 318.43 90.14 322.47 90.24 326.5 90.35 330.53 90.46 334.56 90.57 338.59 90.69 342.62 90.82 346.65 90.95 350.68 91.09 354.71 91.23 358.74 91.38 362.78 91.54 366.81 91.71 370.84 91.89 374.87 92.07 378.9 92.27 382.93 92.47 386.96 92.69 390.99 92.91 395.02 93.15 399.05 93.4 403.09 93.66 407.12 93.94 411.15 94.23 415.18 94.54 419.21 94.86 423.24 95.2 427.27 95.55 431.3 95.93 435.33 96.32 439.36 96.73 443.4 97.16 447.43 97.61 451.46 98.09 455.49 98.58 459.52 99.1 463.55 99.64 467.58 100.21 471.61 100.8 475.64 101.42 479.67 102.06 483.71 102.73 487.74 103.43 491.77 104.15 495.8 104.9 499.83 105.68 503.86 106.49 507.89 107.32 511.92 108.18 515.95 109.08 519.98 110 524.01 110.95 528.05 111.92 532.08 112.93 536.11 113.96 540.14 115.02 544.17 116.11 548.2 117.22 552.23 118.36 556.26 119.53 560.29 120.72 564.32 121.94 568.36 123.18 572.39 124.45 576.42 125.74 580.45 127.06 584.48 128.39 588.51 129.75 592.54 131.13 596.57 132.53 600.6 133.95 604.63 135.39 608.67 136.85 612.7 138.33 616.73 139.82 620.76 141.34 624.79 142.87 628.82 144.41 632.85 145.97 636.88 147.55 640.91 149.14 644.94 150.75 648.98 152.37 653.01 154" stroke="rgb(0,255,128)"/>
</g>
<line x1="448.3" y1="241.7" x2="587.44" y2="102.83" stroke="#000" stroke-width="6.2"/>
<path d="M601.6 88.7 L568 99.06 Q576.48 102.46 580.72 105.3 L584.96 109.54 Q587.79 113.79 591.17 122.28 Z" fill="#000"/>
<text transform="translate(64.61,379.6) scale(1,1.04)" text-anchor="start" style="font-size:27.5px" fill="#262626"> 0</text><path transform="translate(64.61,379.6) scale(0.01343,-0.01343)" d="M763 0H583V1147C540 1106 484 1064 413 1023C342 982 279 951 223 930V1104C323 1151 411 1208 487 1276C563 1344 616 1410 647 1466H763Z" fill="#262626"/><text transform="translate(96.39,366.8) scale(1,1.04)" text-anchor="start" style="font-size:22.5px" fill="#262626">- </text><path transform="translate(103.89,366.8) scale(0.01099,-0.01099)" d="M763 0H583V1147C540 1106 484 1064 413 1023C342 982 279 951 223 930V1104C323 1151 411 1208 487 1276C563 1344 616 1410 647 1466H763Z" fill="#262626"/>
<text transform="translate(212.81,379.6) scale(1,1.04)" text-anchor="start" style="font-size:27.5px" fill="#262626"> 0</text><path transform="translate(212.81,379.6) scale(0.01343,-0.01343)" d="M763 0H583V1147C540 1106 484 1064 413 1023C342 982 279 951 223 930V1104C323 1151 411 1208 487 1276C563 1344 616 1410 647 1466H763Z" fill="#262626"/><text transform="translate(244.59,366.8) scale(1,1.04)" text-anchor="start" style="font-size:22.5px" fill="#262626">0</text>
<text transform="translate(356.91,379.6) scale(1,1.04)" text-anchor="start" style="font-size:27.5px" fill="#262626"> 0</text><path transform="translate(356.91,379.6) scale(0.01343,-0.01343)" d="M763 0H583V1147C540 1106 484 1064 413 1023C342 982 279 951 223 930V1104C323 1151 411 1208 487 1276C563 1344 616 1410 647 1466H763Z" fill="#262626"/><text transform="translate(388.69,366.8) scale(1,1.04)" text-anchor="start" style="font-size:22.5px" fill="#262626"> </text><path transform="translate(388.69,366.8) scale(0.01099,-0.01099)" d="M763 0H583V1147C540 1106 484 1064 413 1023C342 982 279 951 223 930V1104C323 1151 411 1208 487 1276C563 1344 616 1410 647 1466H763Z" fill="#262626"/>
<text transform="translate(498.41,379.6) scale(1,1.04)" text-anchor="start" style="font-size:27.5px" fill="#262626"> 0</text><path transform="translate(498.41,379.6) scale(0.01343,-0.01343)" d="M763 0H583V1147C540 1106 484 1064 413 1023C342 982 279 951 223 930V1104C323 1151 411 1208 487 1276C563 1344 616 1410 647 1466H763Z" fill="#262626"/><text transform="translate(530.19,366.8) scale(1,1.04)" text-anchor="start" style="font-size:22.5px" fill="#262626">2</text>
<text transform="translate(642.11,379.6) scale(1,1.04)" text-anchor="start" style="font-size:27.5px" fill="#262626"> 0</text><path transform="translate(642.11,379.6) scale(0.01343,-0.01343)" d="M763 0H583V1147C540 1106 484 1064 413 1023C342 982 279 951 223 930V1104C323 1151 411 1208 487 1276C563 1344 616 1410 647 1466H763Z" fill="#262626"/><text transform="translate(673.89,366.8) scale(1,1.04)" text-anchor="start" style="font-size:22.5px" fill="#262626">3</text>
<text transform="translate(37.2,130.9) scale(1,1.04)" text-anchor="start" style="font-size:27.5px" fill="#262626"> 0</text><path transform="translate(37.2,130.9) scale(0.01343,-0.01343)" d="M763 0H583V1147C540 1106 484 1064 413 1023C342 982 279 951 223 930V1104C323 1151 411 1208 487 1276C563 1344 616 1410 647 1466H763Z" fill="#262626"/><text transform="translate(68.99,118.1) scale(1,1.04)" text-anchor="start" style="font-size:22.5px" fill="#262626"> </text><path transform="translate(68.99,118.1) scale(0.01099,-0.01099)" d="M763 0H583V1147C540 1106 484 1064 413 1023C342 982 279 951 223 930V1104C323 1151 411 1208 487 1276C563 1344 616 1410 647 1466H763Z" fill="#262626"/>
<text transform="translate(37.2,239.9) scale(1,1.04)" text-anchor="start" style="font-size:27.5px" fill="#262626"> 0</text><path transform="translate(37.2,239.9) scale(0.01343,-0.01343)" d="M763 0H583V1147C540 1106 484 1064 413 1023C342 982 279 951 223 930V1104C323 1151 411 1208 487 1276C563 1344 616 1410 647 1466H763Z" fill="#262626"/><text transform="translate(68.99,227.1) scale(1,1.04)" text-anchor="start" style="font-size:22.5px" fill="#262626">0</text>
<text transform="translate(204,424.6) scale(1,1.04)" text-anchor="start" style="font-size:30.1px" fill="#262626">Current density (mA cm</text>
<text transform="translate(521.68,411.7) scale(1,1.04)" text-anchor="start" style="font-size:23px" fill="#262626">-2</text>
<text transform="translate(545.2,424.6) scale(1,1.04)" text-anchor="start" style="font-size:30px" fill="#262626">)</text>
<g transform="translate(23.7,335.9) rotate(-90)"><text transform="translate(-1.52,0) scale(1,1.04)" text-anchor="start" style="font-size:30.3px" fill="#262626">Calculated EQE (%)</text></g>
<text transform="translate(272.54,282.1) scale(1,1.04)" text-anchor="start" style="font-size:27.3px" fill="#000">Increasing</text>
<text transform="translate(432.33,282.1) scale(1,1.04)" text-anchor="start" style="font-size:26.8px" fill="#000">value</text>
<g fill="none" stroke="#000" stroke-linecap="round"><path d="M407.9 275.0 C409 271.6 411.5 270.7 413.1 270.7 C416 270.7 417.3 273.5 417.7 277.6" stroke-width="1.9"/><path d="M421.8 270.4 L417.9 278.2" stroke-width="1.2"/><path d="M417.9 277.6 L415.7 287.2" stroke-width="1.6"/></g>
<text transform="translate(14.87,17.2) scale(1,1.04)" text-anchor="start" style="font-size:31px;font-weight:bold" fill="#000">a</text>
<path d="M124.92 793.0v-10.5M124.92 522.3v10.5M132.91 793.0v-10.5M132.91 522.3v10.5M139.83 793.0v-10.5M139.83 522.3v10.5M145.94 793.0v-10.5M145.94 522.3v10.5M151.4 793.0v-20M151.4 522.3v20M187.33 793.0v-10.5M187.33 522.3v10.5M208.34 793.0v-10.5M208.34 522.3v10.5M223.26 793.0v-10.5M223.26 522.3v10.5M234.82 793.0v-10.5M234.82 522.3v10.5M244.27 793.0v-10.5M244.27 522.3v10.5M252.26 793.0v-10.5M252.26 522.3v10.5M259.18 793.0v-10.5M259.18 522.3v10.5M265.29 793.0v-10.5M265.29 522.3v10.5M270.75 793.0v-20M270.75 522.3v20M306.68 793.0v-10.5M306.68 522.3v10.5M327.69 793.0v-10.5M327.69 522.3v10.5M342.61 793.0v-10.5M342.61 522.3v10.5M354.17 793.0v-10.5M354.17 522.3v10.5M363.62 793.0v-10.5M363.62 522.3v10.5M371.61 793.0v-10.5M371.61 522.3v10.5M378.53 793.0v-10.5M378.53 522.3v10.5M384.64 793.0v-10.5M384.64 522.3v10.5M390.1 793.0v-20M390.1 522.3v20M426.03 793.0v-10.5M426.03 522.3v10.5M447.04 793.0v-10.5M447.04 522.3v10.5M461.96 793.0v-10.5M461.96 522.3v10.5M473.52 793.0v-10.5M473.52 522.3v10.5M482.97 793.0v-10.5M482.97 522.3v10.5M490.96 793.0v-10.5M490.96 522.3v10.5M497.88 793.0v-10.5M497.88 522.3v10.5M503.99 793.0v-10.5M503.99 522.3v10.5M509.45 793.0v-20M509.45 522.3v20M545.38 793.0v-10.5M545.38 522.3v10.5M566.39 793.0v-10.5M566.39 522.3v10.5M581.31 793.0v-10.5M581.31 522.3v10.5M592.87 793.0v-10.5M592.87 522.3v10.5M602.32 793.0v-10.5M602.32 522.3v10.5M610.31 793.0v-10.5M610.31 522.3v10.5M617.23 793.0v-10.5M617.23 522.3v10.5M623.34 793.0v-10.5M623.34 522.3v10.5M628.8 793.0v-20M628.8 522.3v20M115.5 772h20M665.1 772h-20M115.5 688.5h20M665.1 688.5h-20M115.5 605h20M665.1 605h-20" stroke="#262626" stroke-width="2" fill="none"/>
<rect x="115.5" y="522.3" width="549.6" height="270.7" fill="none" stroke="#262626" stroke-width="2"/>
<circle cx="151.4" cy="772.1" r="12.4" fill="rgb(0,0,255)"/>
<circle cx="176.53" cy="771.85" r="12.4" fill="rgb(0,13,248)"/>
<circle cx="201.65" cy="771.51" r="12.4" fill="rgb(0,27,242)"/>
<circle cx="226.78" cy="771.01" r="12.4" fill="rgb(0,40,235)"/>
<circle cx="251.91" cy="770.35" r="12.4" fill="rgb(0,54,228)"/>
<circle cx="277.03" cy="769.26" r="12.4" fill="rgb(0,67,221)"/>
<circle cx="302.16" cy="767.34" r="12.4" fill="rgb(0,81,215)"/>
<circle cx="327.28" cy="765" r="12.4" fill="rgb(0,94,208)"/>
<circle cx="352.41" cy="760.16" r="12.4" fill="rgb(0,107,201)"/>
<circle cx="377.54" cy="754.73" r="12.4" fill="rgb(0,121,195)"/>
<circle cx="402.66" cy="746.97" r="12.4" fill="rgb(0,134,188)"/>
<circle cx="427.79" cy="733.94" r="12.4" fill="rgb(0,148,181)"/>
<circle cx="452.92" cy="720.83" r="12.4" fill="rgb(0,161,174)"/>
<circle cx="478.04" cy="704.63" r="12.4" fill="rgb(0,174,168)"/>
<circle cx="503.17" cy="690.1" r="12.4" fill="rgb(0,188,161)"/>
<circle cx="528.29" cy="674.32" r="12.4" fill="rgb(0,201,154)"/>
<circle cx="553.42" cy="655.95" r="12.4" fill="rgb(0,215,148)"/>
<circle cx="578.55" cy="643.76" r="12.4" fill="rgb(0,228,141)"/>
<circle cx="603.67" cy="631.07" r="12.4" fill="rgb(0,242,134)"/>
<circle cx="628.8" cy="624.39" r="12.4" fill="rgb(0,255,128)"/>
<text transform="translate(119.21,835.7) scale(1,1.04)" text-anchor="start" style="font-size:27.5px" fill="#262626"> 0</text><path transform="translate(119.21,835.7) scale(0.01343,-0.01343)" d="M763 0H583V1147C540 1106 484 1064 413 1023C342 982 279 951 223 930V1104C323 1151 411 1208 487 1276C563 1344 616 1410 647 1466H763Z" fill="#262626"/><text transform="translate(150.79,822.3) scale(1,1.04)" text-anchor="start" style="font-size:22.5px" fill="#262626">- 4</text><path transform="translate(158.29,822.3) scale(0.01099,-0.01099)" d="M763 0H583V1147C540 1106 484 1064 413 1023C342 982 279 951 223 930V1104C323 1151 411 1208 487 1276C563 1344 616 1410 647 1466H763Z" fill="#262626"/>
<text transform="translate(238.11,835.7) scale(1,1.04)" text-anchor="start" style="font-size:27.5px" fill="#262626"> 0</text><path transform="translate(238.11,835.7) scale(0.01343,-0.01343)" d="M763 0H583V1147C540 1106 484 1064 413 1023C342 982 279 951 223 930V1104C323 1151 411 1208 487 1276C563 1344 616 1410 647 1466H763Z" fill="#262626"/><text transform="translate(269.69,822.3) scale(1,1.04)" text-anchor="start" style="font-size:22.5px" fill="#262626">- 3</text><path transform="translate(277.19,822.3) scale(0.01099,-0.01099)" d="M763 0H583V1147C540 1106 484 1064 413 1023C342 982 279 951 223 930V1104C323 1151 411 1208 487 1276C563 1344 616 1410 647 1466H763Z" fill="#262626"/>
<text transform="translate(358.91,835.7) scale(1,1.04)" text-anchor="start" style="font-size:27.5px" fill="#262626"> 0</text><path transform="translate(358.91,835.7) scale(0.01343,-0.01343)" d="M763 0H583V1147C540 1106 484 1064 413 1023C342 982 279 951 223 930V1104C323 1151 411 1208 487 1276C563 1344 616 1410 647 1466H763Z" fill="#262626"/><text transform="translate(390.49,822.3) scale(1,1.04)" text-anchor="start" style="font-size:22.5px" fill="#262626">- 2</text><path transform="translate(397.99,822.3) scale(0.01099,-0.01099)" d="M763 0H583V1147C540 1106 484 1064 413 1023C342 982 279 951 223 930V1104C323 1151 411 1208 487 1276C563 1344 616 1410 647 1466H763Z" fill="#262626"/>
<text transform="translate(477.51,835.7) scale(1,1.04)" text-anchor="start" style="font-size:27.5px" fill="#262626"> 0</text><path transform="translate(477.51,835.7) scale(0.01343,-0.01343)" d="M763 0H583V1147C540 1106 484 1064 413 1023C342 982 279 951 223 930V1104C323 1151 411 1208 487 1276C563 1344 616 1410 647 1466H763Z" fill="#262626"/><text transform="translate(509.09,822.3) scale(1,1.04)" text-anchor="start" style="font-size:22.5px" fill="#262626">-  </text><path transform="translate(516.59,822.3) scale(0.01099,-0.01099)" d="M763 0H583V1147C540 1106 484 1064 413 1023C342 982 279 951 223 930V1104C323 1151 411 1208 487 1276C563 1344 616 1410 647 1466H763Z" fill="#262626"/><path transform="translate(529.1,822.3) scale(0.01099,-0.01099)" d="M763 0H583V1147C540 1106 484 1064 413 1023C342 982 279 951 223 930V1104C323 1151 411 1208 487 1276C563 1344 616 1410 647 1466H763Z" fill="#262626"/>
<text transform="translate(596.01,835.7) scale(1,1.04)" text-anchor="start" style="font-size:27.5px" fill="#262626"> 0</text><path transform="translate(596.01,835.7) scale(0.01343,-0.01343)" d="M763 0H583V1147C540 1106 484 1064 413 1023C342 982 279 951 223 930V1104C323 1151 411 1208 487 1276C563 1344 616 1410 647 1466H763Z" fill="#262626"/><text transform="translate(627.59,822.3) scale(1,1.04)" text-anchor="start" style="font-size:22.5px" fill="#262626">- 0</text><path transform="translate(635.09,822.3) scale(0.01099,-0.01099)" d="M763 0H583V1147C540 1106 484 1064 413 1023C342 982 279 951 223 930V1104C323 1151 411 1208 487 1276C563 1344 616 1410 647 1466H763Z" fill="#262626"/>
<text transform="translate(90.71,782.5) scale(1,1.04)" text-anchor="start" style="font-size:27.5px" fill="#262626">0</text>
<text transform="translate(58.42,699) scale(1,1.04)" text-anchor="start" style="font-size:27.5px" fill="#262626"> 00</text><path transform="translate(58.42,699) scale(0.01343,-0.01343)" d="M763 0H583V1147C540 1106 484 1064 413 1023C342 982 279 951 223 930V1104C323 1151 411 1208 487 1276C563 1344 616 1410 647 1466H763Z" fill="#262626"/>
<text transform="translate(58.42,615.5) scale(1,1.04)" text-anchor="start" style="font-size:27.5px" fill="#262626">200</text>
<text transform="translate(58.42,532) scale(1,1.04)" text-anchor="start" style="font-size:27.5px" fill="#262626">300</text>
<text transform="translate(199.13,615.3) scale(1,1.04)" text-anchor="start" style="font-size:27.3px" fill="#000">Critical current density</text>
<g fill="none" stroke="#262626" stroke-linecap="round"><path d="M322.5 874.4 C324 870.5 327 869.3 329.3 869.3 C332.5 869.3 333.6 873 333.9 877.8" stroke-width="2.1"/><path d="M339.7 869.3 L334.1 878.6" stroke-width="1.3"/><path d="M334.1 877.8 L329.9 890" stroke-width="1.8"/></g>
<text transform="translate(344.2,882.1) scale(1,1.04)" text-anchor="start" style="font-size:30px" fill="#262626">(cm</text>
<text transform="translate(397.08,869.7) scale(1,1.04)" text-anchor="start" style="font-size:23px" fill="#262626">3</text>
<text transform="translate(417.1,882.1) scale(1,1.04)" text-anchor="start" style="font-size:30px" fill="#262626">s</text>
<text transform="translate(435.68,869.4) scale(1,1.04)" text-anchor="start" style="font-size:23px" fill="#262626">- </text><path transform="translate(443.34,869.4) scale(0.01123,-0.01123)" d="M763 0H583V1147C540 1106 484 1064 413 1023C342 982 279 951 223 930V1104C323 1151 411 1208 487 1276C563 1344 616 1410 647 1466H763Z" fill="#262626"/>
<text transform="translate(458.1,882.1) scale(1,1.04)" text-anchor="start" style="font-size:30px" fill="#262626">)</text>
<g transform="translate(30,747.8) rotate(-90)"><path transform="scale(0.01465,-0.01523)" d="M381 -20Q222 -20 121.5 73Q21 166 -5 343L163 376Q186 259 242 197Q298 135 398 135Q503 135 568 207.5Q633 280 663 440L850 1409H1040L847 423Q804 199 690 89.5Q576 -20 381 -20Z" fill="#262626"/><text transform="translate(16.7,15) scale(1,1.04)" text-anchor="start" style="font-size:24px;font-style:italic" fill="#262626">50</text><text transform="translate(51.3,0) scale(1,1.04)" text-anchor="start" style="font-size:30px" fill="#262626">(mA cm</text><text transform="translate(157.62,-13) scale(1,1.04)" text-anchor="start" style="font-size:23px" fill="#262626">-2</text><text transform="translate(180.07,0) scale(1,1.04)" text-anchor="start" style="font-size:30px" fill="#262626">)</text></g>
<text transform="translate(14.24,473.5) scale(1,1.04)" text-anchor="start" style="font-size:31px;font-weight:bold" fill="#000">b</text>
</svg>
</body></html>
